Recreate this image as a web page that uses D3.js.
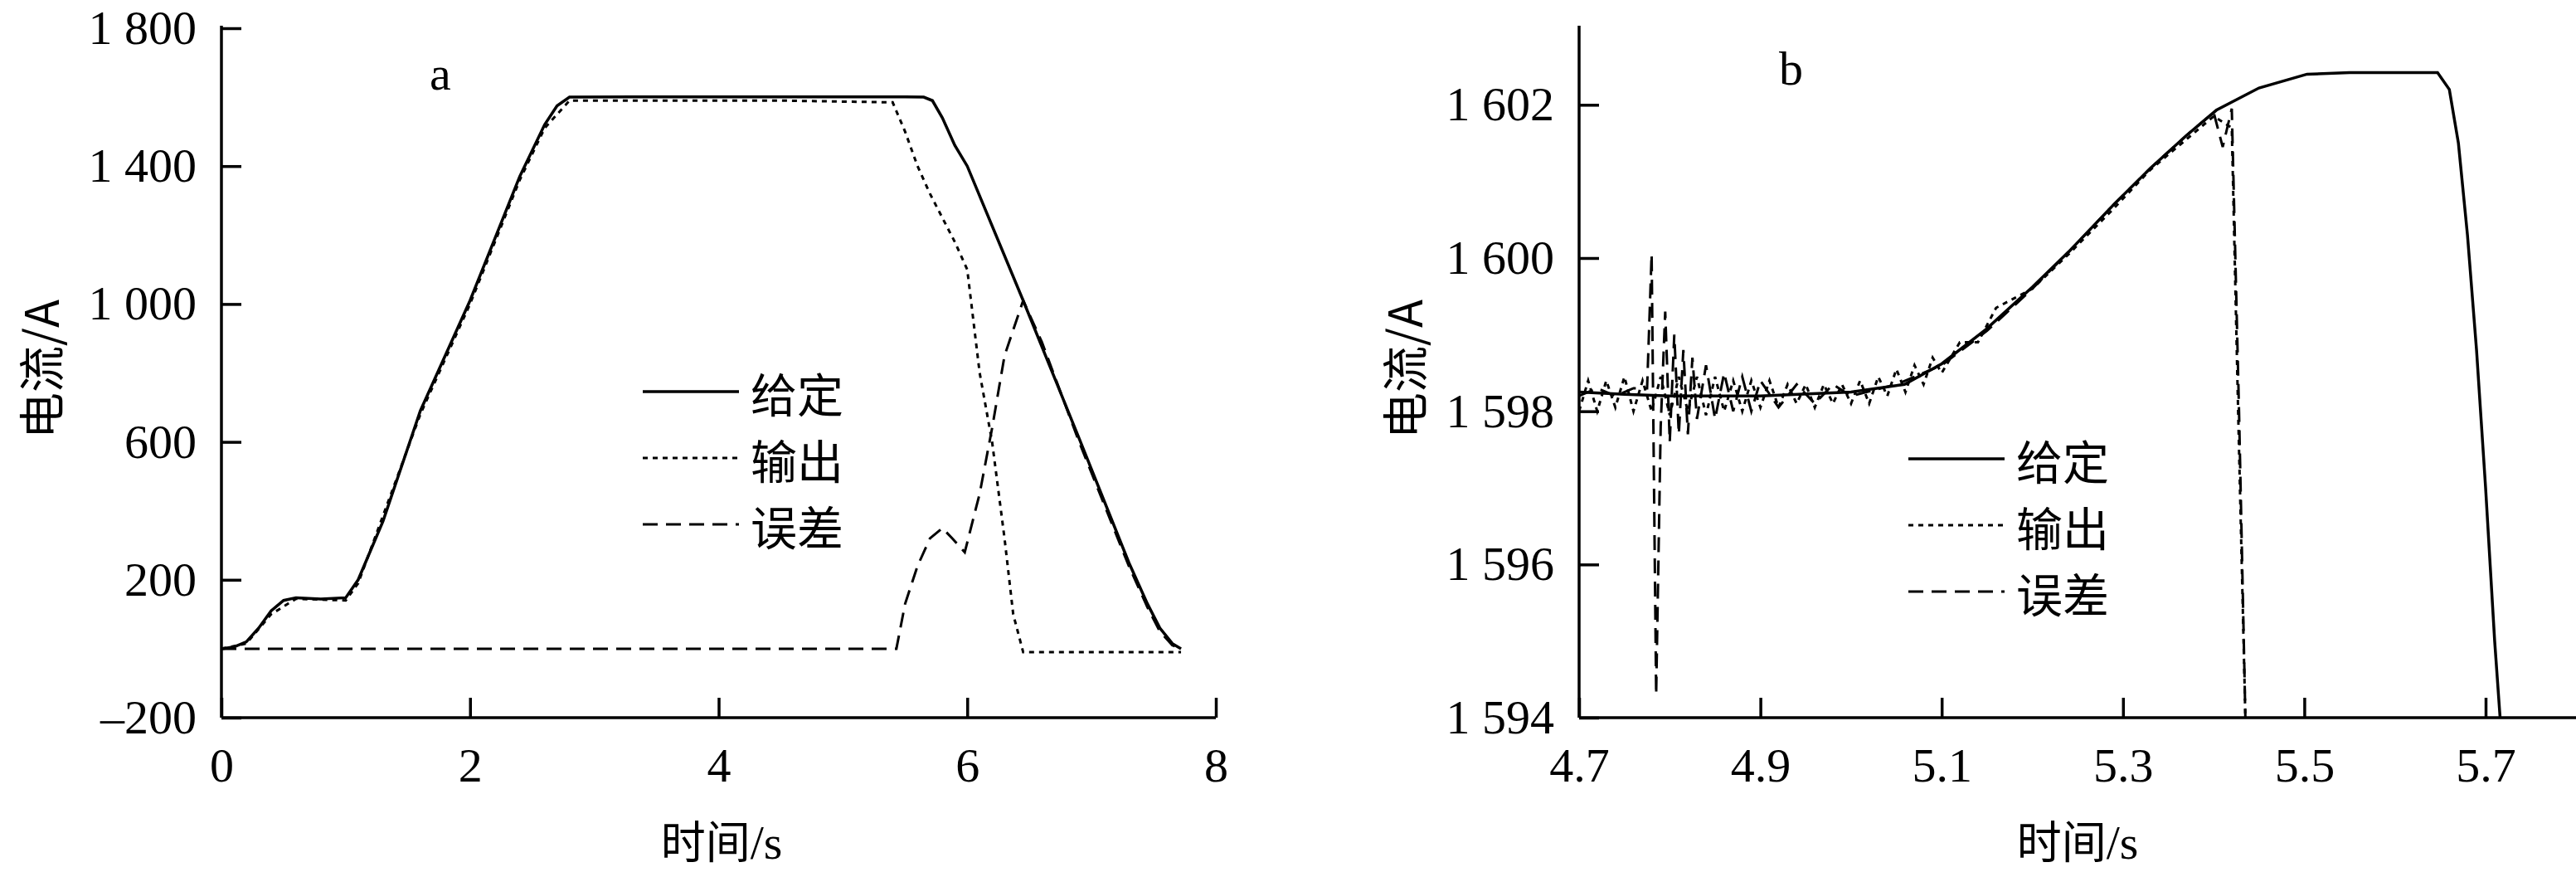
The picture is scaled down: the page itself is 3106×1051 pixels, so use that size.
<!DOCTYPE html>
<html><head><meta charset="utf-8">
<script src="https://cdn.jsdelivr.net/npm/d3@7"></script>
<style>
body{margin:0;background:#fff}
text{font-family:"Liberation Serif",serif}
.cjk{font-family:"Noto Sans CJK SC",sans-serif}
</style></head>
<body><div id="chart"></div>
<script>
// panel a
const aGivenT = [0, 0.1, 0.2, 0.3, 0.4, 0.5, 0.6, 0.8, 1.0, 1.1, 1.3, 1.6, 2.0, 2.4, 2.6, 2.7, 2.8, 3.5, 4.5, 5.5, 5.65, 5.72, 5.8, 5.9, 6.0, 6.45, 6.9, 7.3, 7.45, 7.55, 7.65, 7.72]
const aGivenV = [0, 5, 20, 60, 110, 140, 148, 144, 148, 200, 370, 690, 1010, 1370, 1520, 1575, 1600, 1601, 1601, 1601, 1600, 1590, 1540, 1460, 1400, 1010, 610, 250, 130, 60, 15, 0]
const aOutT = [0, 0.2, 0.4, 0.6, 1.0, 1.1, 1.6, 2.0, 2.4, 2.6, 2.8, 4.5, 5.4, 5.5, 5.6, 5.7, 5.8, 5.9, 6.0, 6.05, 6.1, 6.2, 6.3, 6.37, 6.45, 7.0, 7.72]
const aOutV = [0, 15, 100, 145, 140, 190, 680, 1000, 1360, 1510, 1590, 1590, 1585, 1500, 1400, 1320, 1250, 1180, 1100, 950, 800, 600, 320, 100, -10, -10, -10]
const aErrT = [0, 2.0, 4.0, 5.43, 5.5, 5.6, 5.7, 5.8, 5.88, 5.98, 6.1, 6.2, 6.3, 6.45, 6.6, 6.9, 7.3, 7.45, 7.55, 7.65, 7.72]
const aErrV = [0, 0, 0, 0, 130, 240, 320, 350, 320, 280, 450, 640, 850, 1010, 890, 600, 240, 120, 50, 10, 0]
// panel b
const bGivenT = [4.70, 4.75, 4.80, 4.90, 5.00, 5.059, 5.10, 5.149, 5.20, 5.24, 5.29, 5.33, 5.37, 5.403, 5.45, 5.503, 5.55, 5.60, 5.647, 5.66, 5.67, 5.68, 5.69, 5.70, 5.71, 5.716]
const bGivenV = [1598.25, 1598.22, 1598.2, 1598.2, 1598.25, 1598.35, 1598.62, 1599.07, 1599.62, 1600.08, 1600.7, 1601.17, 1601.6, 1601.93, 1602.22, 1602.4, 1602.42, 1602.42, 1602.42, 1602.2, 1601.5, 1600.3, 1598.8, 1597.0, 1595.0, 1594.0]
const bOutT = [4.70, 4.71, 4.72, 4.73, 4.74, 4.75, 4.76, 4.77, 4.78, 4.79, 4.80, 4.81, 4.82, 4.83, 4.84, 4.85, 4.86, 4.87, 4.88, 4.89, 4.90, 4.91, 4.92, 4.93, 4.94, 4.95, 4.96, 4.97, 4.98, 4.99, 5.00, 5.01, 5.02, 5.03, 5.04, 5.05, 5.06, 5.07, 5.08, 5.09, 5.10, 5.12, 5.14, 5.16, 5.2, 5.24, 5.29, 5.33, 5.37, 5.40, 5.42, 5.427, 5.435]
const bOutV = [1598.0, 1598.4, 1598.0, 1598.4, 1598.05, 1598.45, 1598.0, 1598.4, 1598.0, 1598.45, 1597.95, 1598.45, 1598.0, 1598.45, 1597.95, 1598.45, 1598.0, 1598.4, 1598.0, 1598.4, 1598.05, 1598.4, 1598.05, 1598.35, 1598.1, 1598.35, 1598.05, 1598.35, 1598.1, 1598.35, 1598.1, 1598.4, 1598.1, 1598.45, 1598.2, 1598.55, 1598.25, 1598.6, 1598.35, 1598.7, 1598.5, 1598.9, 1598.9, 1599.35, 1599.6, 1600.05, 1600.65, 1601.15, 1601.55, 1601.85, 1601.7, 1598, 1594]
const bErrT = [4.70, 4.72, 4.74, 4.76, 4.775, 4.780, 4.785, 4.790, 4.795, 4.800, 4.805, 4.810, 4.815, 4.820, 4.825, 4.830, 4.840, 4.850, 4.860, 4.870, 4.880, 4.890, 4.900, 4.920, 4.940, 4.960, 4.980, 5.00, 5.05, 5.10, 5.15, 5.20, 5.24, 5.29, 5.33, 5.37, 5.40, 5.41, 5.42, 5.428, 5.435]
const bErrV = [1598.2, 1598.3, 1598.2, 1598.3, 1598.3, 1600.05, 1594.3, 1597.8, 1599.3, 1597.6, 1599.0, 1597.7, 1598.8, 1597.7, 1598.7, 1597.9, 1598.6, 1597.9, 1598.5, 1598.0, 1598.45, 1598.0, 1598.4, 1598.05, 1598.35, 1598.1, 1598.35, 1598.2, 1598.35, 1598.6, 1599.05, 1599.6, 1600.08, 1600.7, 1601.17, 1601.6, 1601.9, 1601.45, 1601.95, 1598, 1594]
const legendLabels = ['给定', '输出', '误差']
const dashes = [null, '6,6', '18,10']

const W = 3106
const H = 1051
const svg = d3.select('#chart').append('svg').attr('width', W).attr('height', H)
const fmt = d3.formatLocale({ decimal: '.', thousands: ' ', grouping: [3], currency: ['', ''], minus: '\u2013' })

function panel (o) {
  const x = d3.scaleLinear().domain(o.xd).range(o.xr)
  const y = d3.scaleLinear().domain(o.yd).range([865, 34])
  const g = svg.append('g')
  const clipId = 'clip' + o.name
  svg.append('clipPath').attr('id', clipId).append('rect')
    .attr('x', o.xr[0]).attr('y', 30).attr('width', W - o.xr[0]).attr('height', 865 - 30)

  const series = [[o.gT, o.gV], [o.oT, o.oV], [o.eT, o.eV]]
  const line = d3.line().x(d => x(d[0])).y(d => y(d[1]))
  series.forEach(function (s, i) {
    g.append('path')
      .attr('clip-path', 'url(#' + clipId + ')')
      .attr('d', line(d3.zip(s[0], s[1])))
      .attr('fill', 'none').attr('stroke', '#000')
      .attr('stroke-width', i === 0 ? 3.5 : 3)
      .attr('stroke-dasharray', dashes[i])
  })

  const xa = g.append('g').attr('transform', 'translate(0,865)')
    .call(d3.axisBottom(x).tickValues(o.xt).tickSize(-24).tickPadding(36).tickFormat(o.xf))
  const ya = g.append('g').attr('transform', 'translate(' + o.xr[0] + ',0)')
    .call(d3.axisLeft(y).tickValues(o.yt).tickSize(-24).tickPadding(30).tickFormat(fmt.format(',d')))
  ;[xa, ya].forEach(function (a) {
    a.select('.domain').attr('stroke-width', 3.5)
    a.selectAll('.tick line').attr('stroke-width', 3.5)
    a.selectAll('.tick text').attr('font-size', 58).attr('font-family', 'Liberation Serif').attr('fill', '#000')
  })
  ya.select('.domain').attr('d', 'M0,31V865')
  xa.select('.domain').attr('d', 'M' + o.xr[0] + ',0H' + o.xEnd)

  g.append('text').attr('class', 'cjk').attr('font-size', 56)
    .attr('transform', 'translate(' + o.ytx + ',445) rotate(-90)')
    .attr('text-anchor', 'middle').attr('dominant-baseline', 'central').text('电流/A')
  g.append('text').attr('font-size', 58)
    .attr('x', o.xtx).attr('y', 1035).attr('text-anchor', 'middle')
    .call(t => { t.append('tspan').attr('class', 'cjk').attr('font-size', 54).text('时间'); t.append('tspan').text('/s') })
  g.append('text').attr('font-size', 58).attr('x', o.lx).attr('y', o.ly).text(o.name)

  legendLabels.forEach(function (lab, i) {
    const yy = o.legY + i * 80
    g.append('line').attr('x1', o.legX).attr('x2', o.legX + 116).attr('y1', yy).attr('y2', yy)
      .attr('stroke', '#000').attr('stroke-width', i === 0 ? 3.5 : 3).attr('stroke-dasharray', dashes[i])
    g.append('text').attr('class', 'cjk').attr('font-size', 56).attr('x', o.legX + 130).attr('y', yy)
      .attr('dominant-baseline', 'central').text(lab)
  })
}

panel({ name: 'a', xd: [0, 8], xr: [267, 1466], xEnd: 1466, yd: [-200, 1800], xt: [0, 2, 4, 6, 8], yt: [-200, 200, 600, 1000, 1400, 1800], xf: d3.format('d'), gT: aGivenT, gV: aGivenV, oT: aOutT, oV: aOutV, eT: aErrT, eV: aErrV, ytx: 46, xtx: 870, lx: 518, ly: 108, legX: 775, legY: 472 })
panel({ name: 'b', xd: [4.7, 5.7], xr: [1904, 2997], xEnd: 3106, yd: [1594, 1603], xt: [4.7, 4.9, 5.1, 5.3, 5.5, 5.7], yt: [1594, 1596, 1598, 1600, 1602], xf: d3.format('.1f'), gT: bGivenT, gV: bGivenV, oT: bOutT, oV: bOutV, eT: bErrT, eV: bErrV, ytx: 1690, xtx: 2505, lx: 2145, ly: 102, legX: 2301, legY: 553 })
</script></body></html>
